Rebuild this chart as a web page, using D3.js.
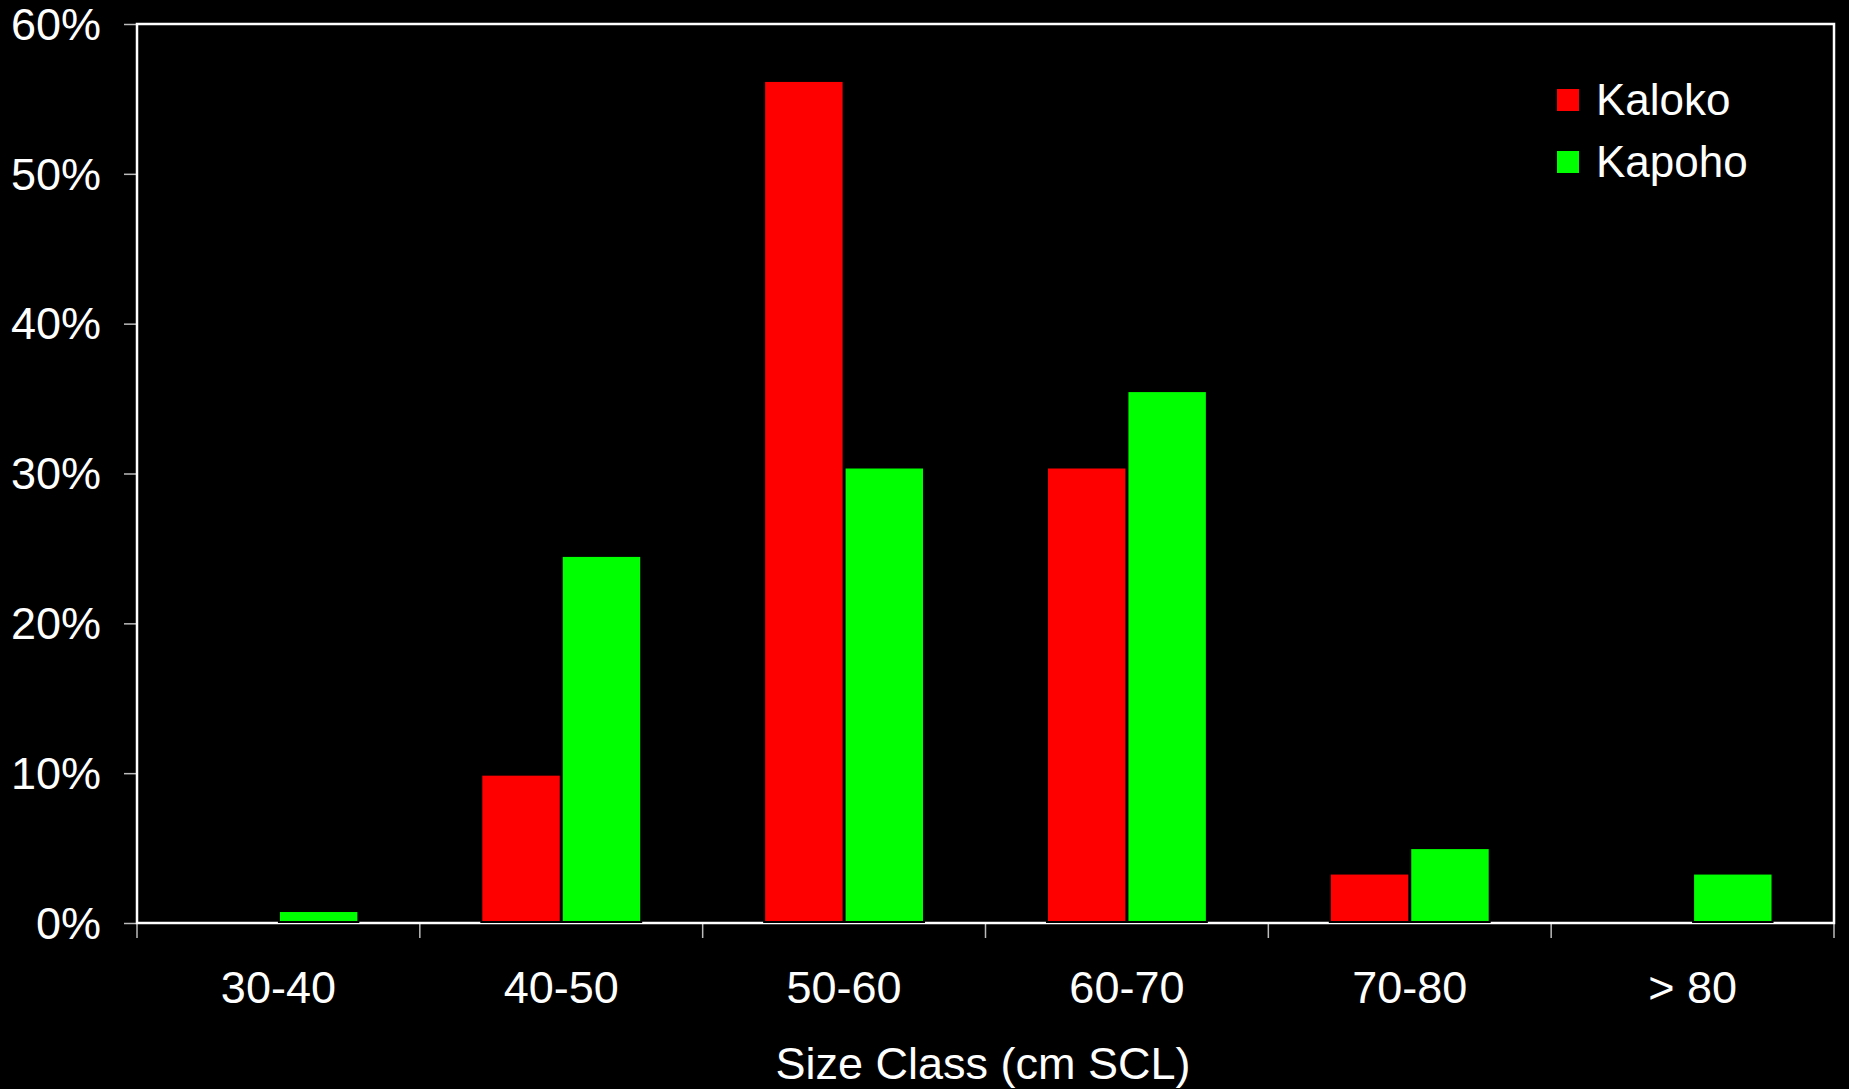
<!DOCTYPE html>
<html>
<head>
<meta charset="utf-8">
<script src="https://cdn.jsdelivr.net/npm/d3@7"></script>
<style>
  html, body { margin: 0; padding: 0; background: #000; }
  svg { display: block; }
  text { font-family: "Liberation Sans", Arial, sans-serif; fill: #fff; }
</style>
</head>
<body>
<svg id="chart" width="1849" height="1089"></svg>
<script>
// Size-class distribution (straight carapace length) for two sites
const categories = ["30-40", "40-50", "50-60", "60-70", "70-80", "> 80"];
const seriesNames = ["Kaloko", "Kapoho"];
const kaloko = [0, 0.099, 0.562, 0.304, 0.033, 0];
const kapoho = [0.008, 0.245, 0.304, 0.355, 0.050, 0.033];
const yTicks = [0, 0.1, 0.2, 0.3, 0.4, 0.5, 0.6];
const colors = ["#ff0000", "#00ff00"];
const xTitle = "Size Class (cm SCL)";

const values = [kaloko, kapoho];
const rows = categories.map((c, i) => ({
  category: c,
  bars: seriesNames.map((s, j) => ({ series: s, value: values[j][i] }))
}));

const svg = d3.select("#chart");
const plotLeft = 137, plotRight = 1834, plotTop = 24, plotBottom = 923;

const x0 = d3.scaleBand().domain(categories).range([plotLeft, plotRight]).padding(0);
const x1 = d3.scaleBand().domain(seriesNames)
  .range([0, x0.bandwidth()]).paddingInner(0).paddingOuter(0.758);
const y = d3.scaleLinear().domain([0, 0.6]).range([plotBottom, plotTop]);
const color = d3.scaleOrdinal().domain(seriesNames).range(colors);

// Y axis ticks and labels
const yAxis = svg.append("g")
  .attr("transform", `translate(${plotLeft},0)`)
  .call(d3.axisLeft(y).tickValues(yTicks).tickFormat(d3.format(".0%"))
    .tickSize(13).tickPadding(23));
yAxis.select(".domain").remove();
yAxis.selectAll(".tick line").attr("stroke", "#bbb").attr("stroke-width", 1.5);
yAxis.selectAll(".tick text")
  .attr("font-size", 45).attr("fill", "#fff")
  .attr("font-family", "'Liberation Sans', Arial, sans-serif")
  .attr("dy", "0.34em");

// X axis: ticks at category boundaries, labels at category centres
const boundaries = categories.map(c => x0(c)).concat([plotRight]);
const xAxis = svg.append("g").attr("transform", `translate(0,${plotBottom})`);
xAxis.selectAll("line.bound").data(boundaries).join("line")
  .attr("class", "bound")
  .attr("x1", d => d).attr("x2", d => d)
  .attr("y1", 0).attr("y2", 15)
  .attr("stroke", "#bbb").attr("stroke-width", 1.5);
xAxis.selectAll("text.cat").data(categories).join("text")
  .attr("class", "cat")
  .attr("x", d => x0(d) + x0.bandwidth() / 2)
  .attr("y", 80)
  .attr("text-anchor", "middle")
  .attr("font-size", 45)
  .text(d => d);

// Plot frame
svg.append("rect")
  .attr("x", plotLeft).attr("y", plotTop)
  .attr("width", plotRight - plotLeft).attr("height", plotBottom - plotTop)
  .attr("fill", "none").attr("stroke", "#fff").attr("stroke-width", 2.5);

// Bars
const groups = svg.append("g").selectAll("g").data(rows).join("g")
  .attr("transform", d => `translate(${x0(d.category)},0)`);
groups.selectAll("rect").data(d => d.bars.filter(b => b.value > 0)).join("rect")
  .attr("x", d => x1(d.series) + 0.5)
  .attr("width", x1.bandwidth() - 1)
  .attr("y", d => y(d.value))
  .attr("height", d => y(0) - y(d.value) - 1)
  .attr("fill", d => color(d.series))
  .attr("stroke", "#000").attr("stroke-width", 2);

// Axis title
svg.append("text")
  .attr("x", 983).attr("y", 1079)
  .attr("text-anchor", "middle")
  .attr("font-size", 45)
  .text(xTitle);

// Legend
const legend = svg.append("g").attr("transform", "translate(1557,89)");
const items = legend.selectAll("g").data(seriesNames).join("g")
  .attr("transform", (d, i) => `translate(0,${i * 62})`);
items.append("rect")
  .attr("width", 22).attr("height", 22)
  .attr("fill", d => color(d));
items.append("text")
  .attr("x", 39).attr("y", 26)
  .attr("font-size", 44)
  .text(d => d);
</script>
</body>
</html>
